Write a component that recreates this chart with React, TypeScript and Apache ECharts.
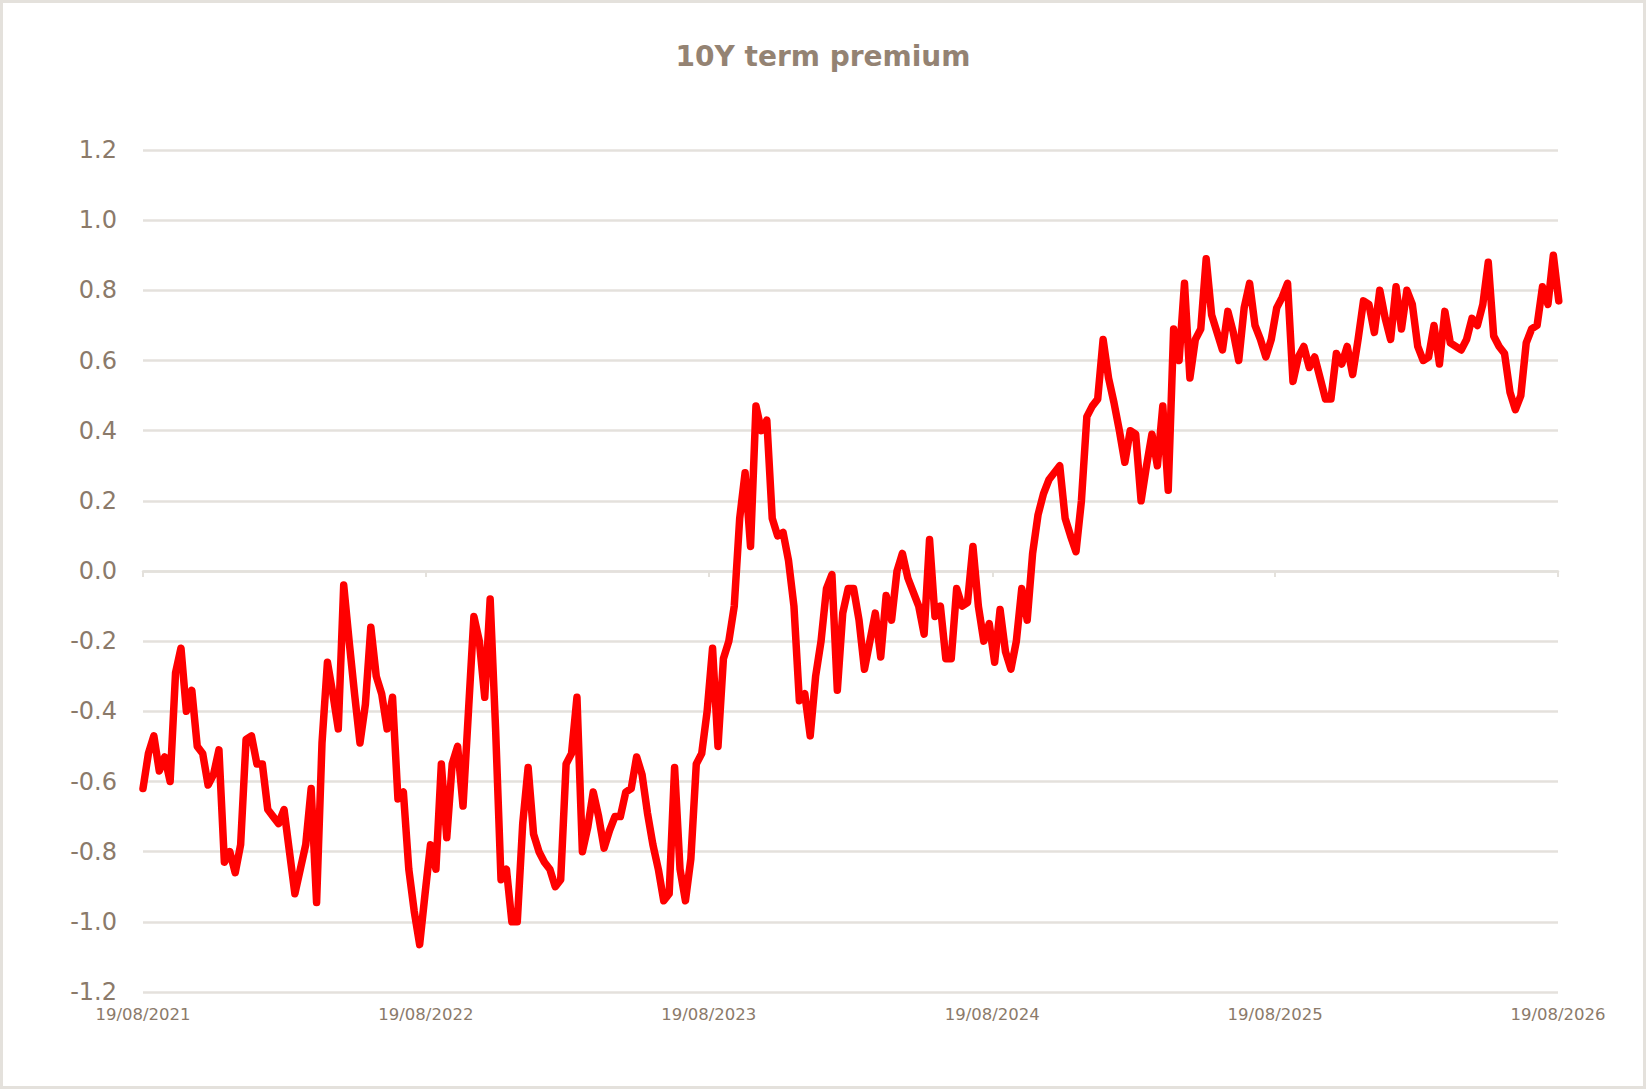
import React, { useEffect, useRef } from "react";
import * as echarts from "echarts";

const TITLE = "10Y term premium";
const START_DATE = "2021-08-19";
const END_DATE = "2026-08-19";
const WEEK_STEP_DAYS = 7;
const TICK_DATES = ["2021-08-19", "2022-08-19", "2023-08-19", "2024-08-19", "2025-08-19", "2026-08-19"];
const Y_TICKS = [-1.2, -1.0, -0.8, -0.6, -0.4, -0.2, 0.0, 0.2, 0.4, 0.6, 0.8, 1.0, 1.2];

// weekly readings of the 10Y term premium (%), starting 19/08/2021
const premium2021 = [
  -0.62, -0.52, -0.47, -0.57, -0.53, -0.60, -0.29, -0.22, -0.40, -0.34,
  -0.50, -0.52, -0.61, -0.58, -0.51, -0.83, -0.80, -0.86, -0.78, -0.48,
];
const premium2022 = [
  -0.47, -0.55, -0.55, -0.68, -0.70, -0.72, -0.68, -0.80, -0.92, -0.85,
  -0.78, -0.62, -0.945, -0.49, -0.26, -0.35, -0.45, -0.04, -0.20, -0.35,
  -0.49, -0.38, -0.16, -0.30, -0.35, -0.45, -0.36, -0.65, -0.63, -0.85,
  -0.97, -1.065, -0.92, -0.78, -0.85, -0.55, -0.76, -0.55, -0.50, -0.67,
  -0.40, -0.13, -0.20, -0.36, -0.08, -0.45, -0.88, -0.85, -1.0, -1.0,
  -0.72, -0.56,
];
const premium2023 = [
  -0.75, -0.80, -0.83, -0.85, -0.90, -0.88, -0.55, -0.52, -0.36, -0.80,
  -0.73, -0.63, -0.70, -0.79, -0.74, -0.70, -0.70, -0.63, -0.62, -0.53,
  -0.58, -0.69, -0.78, -0.85, -0.94, -0.92, -0.56, -0.85, -0.94, -0.82,
  -0.55, -0.52, -0.40, -0.22, -0.50, -0.25, -0.20, -0.10, 0.15, 0.28,
  0.07, 0.47, 0.40, 0.43, 0.15, 0.10, 0.11, 0.03, -0.10, -0.37,
  -0.35, -0.47,
];
const premium2024 = [
  -0.30, -0.20, -0.05, -0.01, -0.34, -0.12, -0.05, -0.05, -0.14, -0.28,
  -0.20, -0.12, -0.245, -0.07, -0.14, 0.0, 0.05, -0.02, -0.06, -0.10,
  -0.18, 0.09, -0.13, -0.10, -0.25, -0.25, -0.05, -0.10, -0.09, 0.07,
  -0.10, -0.20, -0.15, -0.26, -0.11, -0.23, -0.28, -0.20, -0.05, -0.14,
  0.05, 0.16, 0.22, 0.26, 0.28, 0.30, 0.15, 0.10, 0.055, 0.20,
  0.44, 0.47,
];
const premium2025 = [
  0.49, 0.66, 0.55, 0.48, 0.40, 0.31, 0.40, 0.39, 0.20, 0.30,
  0.39, 0.30, 0.47, 0.23, 0.69, 0.60, 0.82, 0.55, 0.66, 0.69,
  0.89, 0.73, 0.68, 0.63, 0.74, 0.68, 0.60, 0.75, 0.82, 0.70,
  0.66, 0.61, 0.66, 0.75, 0.78, 0.82, 0.54, 0.61, 0.64, 0.58,
  0.61, 0.55, 0.49, 0.49, 0.62, 0.59, 0.64, 0.56, 0.66, 0.77,
  0.76, 0.68,
];
const premium2026 = [
  0.80, 0.72, 0.66, 0.81, 0.69, 0.80, 0.76, 0.64, 0.60, 0.61,
  0.70, 0.59, 0.74, 0.65, 0.64, 0.63, 0.66, 0.72, 0.70, 0.76,
  0.88, 0.67, 0.64, 0.62, 0.51, 0.46, 0.50, 0.65, 0.69, 0.70,
  0.81, 0.76, 0.90, 0.77,
];

const premiumValues = [
  ...premium2021,
  ...premium2022,
  ...premium2023,
  ...premium2024,
  ...premium2025,
  ...premium2026,
];

const DAY_MS = 86400000;
const toTs = (s: string) => {
  const [y, m, d] = s.split("-").map(Number);
  return Date.UTC(y, m - 1, d);
};
const pad = (n: number) => (n < 10 ? "0" + n : "" + n);
const fmtDate = (v: number) => {
  const d = new Date(v);
  return pad(d.getUTCDate()) + "/" + pad(d.getUTCMonth() + 1) + "/" + d.getUTCFullYear();
};

const TEXT_COLOR = "#8b7a6a";
const GRID_COLOR = "#e4e1dc";
const FONT = "'DejaVu Sans', sans-serif";

export default function App() {
  const ref = useRef<HTMLDivElement>(null);
  useEffect(() => {
    if (!ref.current) return;
    const chart = echarts.init(ref.current, undefined, { renderer: "svg" });
    const startTs = toTs(START_DATE);
    const endTs = toTs(END_DATE);
    const tickTs = TICK_DATES.map(toTs);
    const seriesData = premiumValues.map((v, i) => [startTs + i * WEEK_STEP_DAYS * DAY_MS, v]);

    chart.setOption({
      animation: false,
      backgroundColor: "#ffffff",
      title: {
        text: TITLE,
        left: "center",
        top: 37,
        textStyle: {
          color: "#948373",
          fontFamily: FONT,
          fontWeight: "bold",
          fontSize: 28,
        },
      },
      graphic: [
        {
          type: "rect",
          silent: true,
          shape: { x: 1.5, y: 1.5, width: 1643, height: 1086 },
          style: { fill: "none", stroke: GRID_COLOR, lineWidth: 3 },
        },
      ],
      grid: { left: 143, right: 88, top: 150, bottom: 97, containLabel: false },
      xAxis: [
        {
          type: "value",
          min: startTs,
          max: endTs,
          position: "bottom",
          scale: true,
          axisLine: { show: false, onZero: false },
          axisTick: { show: false },
          splitLine: { show: false },
          axisLabel: {
            customValues: tickTs,
            formatter: (v: number) => fmtDate(v),
            color: TEXT_COLOR,
            fontFamily: FONT,
            fontSize: 16.5,
            margin: 14,
            showMinLabel: true,
            showMaxLabel: true,
            hideOverlap: false,
          },
        },
        {
          type: "value",
          min: startTs,
          max: endTs,
          position: "bottom",
          scale: true,
          axisLine: { show: true, onZero: true, lineStyle: { color: GRID_COLOR, width: 2.5 } },
          axisTick: {
            show: true,
            customValues: tickTs,
            length: 6,
            lineStyle: { color: GRID_COLOR, width: 2 },
          },
          axisLabel: { show: false },
          splitLine: { show: false },
        },
      ],
      yAxis: {
        type: "value",
        min: Y_TICKS[0],
        max: Y_TICKS[Y_TICKS.length - 1],
        interval: 0.2,
        axisLine: { show: false },
        axisTick: { show: false },
        splitLine: { show: true, lineStyle: { color: GRID_COLOR, width: 2.5 } },
        axisLabel: {
          formatter: (v: number) => (Math.abs(v) < 1e-9 ? "0.0" : v.toFixed(1)),
          color: TEXT_COLOR,
          fontFamily: FONT,
          fontSize: 24,
          fontWeight: "normal",
          margin: 26,
        },
      },
      series: [
        {
          type: "line",
          xAxisIndex: 0,
          data: seriesData,
          showSymbol: false,
          smooth: false,
          lineStyle: { color: "#ff0000", width: 7.5, cap: "round", join: "round" },
          itemStyle: { color: "#ff0000" },
          z: 5,
        },
      ],
    });
    return () => chart.dispose();
  }, []);

  return (
    <div
      style={{ position: "fixed", left: 0, top: 0, width: 1646, height: 1089, background: "#fff" }}
    >
      <div ref={ref} style={{ width: 1646, height: 1089 }} />
    </div>
  );
}
